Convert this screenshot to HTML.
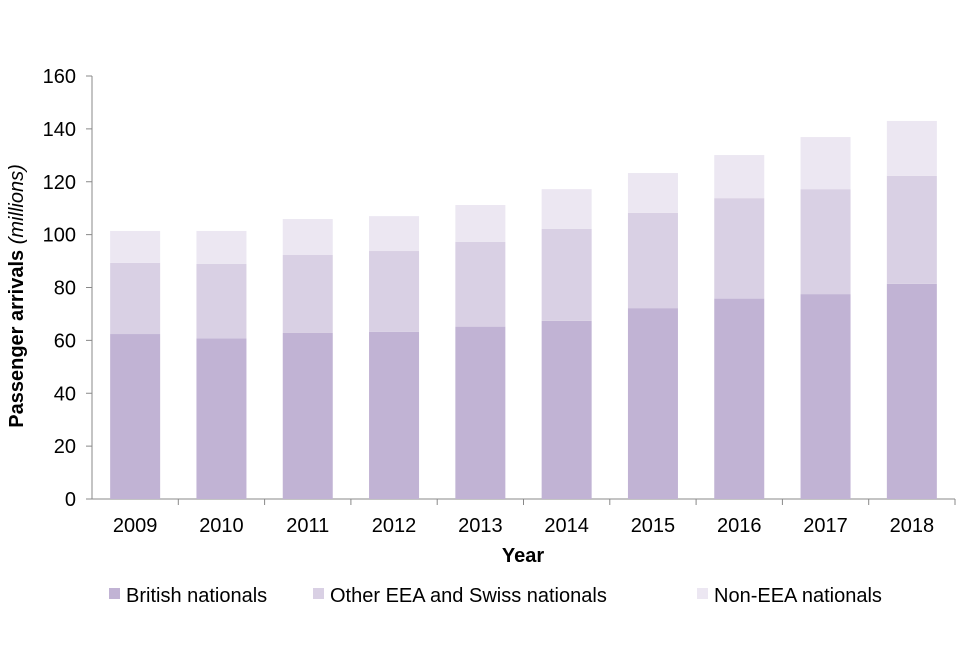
<!DOCTYPE html>
<html><head><meta charset="utf-8"><style>
body{margin:0;background:#fff;font-family:"Liberation Sans",Arial,sans-serif;}
svg text{font-family:"Liberation Sans",Arial,sans-serif;fill:#000;}
</style></head><body>
<svg id="chart" width="960" height="640">
<g id="axes"></g><g id="bars"></g><g id="legend"></g>
</svg>
<script>
const categories=["2009","2010","2011","2012","2013","2014","2015","2016","2017","2018"];
const british=[62.4,60.8,62.8,63.2,65.2,67.4,72.2,75.8,77.5,81.4];
const eea=[26.9,28.1,29.5,30.6,32.1,34.8,36.0,38.0,39.7,40.8];
const nonEea=[12.1,12.5,13.6,13.2,13.9,15.0,15.1,16.3,19.7,20.8];
const yTicks=[0,20,40,60,80,100,120,140,160];
const seriesNames=["British nationals","Other EEA and Swiss nationals","Non-EEA nationals"];
const colors=["#c1b3d4","#d9d0e4","#ece7f2"];
const NS="http://www.w3.org/2000/svg";
const x0=92,x1=955,y0=499,yTop=76,yMax=160;
const bw=(x1-x0)/categories.length;
const y=v=>y0-(v/yMax)*(y0-yTop);
const xc=i=>x0+bw*(i+0.5);
function mk(t,a,p){const e=document.createElementNS(NS,t);for(const k in a)e.setAttribute(k,a[k]);p.appendChild(e);return e;}
const ax=document.getElementById('axes'),bars=document.getElementById('bars'),lg=document.getElementById('legend');
yTicks.forEach(v=>{
 const t=mk('text',{x:76,y:y(v)+7,'text-anchor':'end','font-size':20},ax);t.textContent=v;
 
 
 const l=mk('line',{x1:86,x2:x0,y1:y(v),y2:y(v),stroke:'#888'},ax);
 
 
});
const ya=mk('line',{x1:x0,x2:x0,y1:yTop,y2:y0,stroke:'#888'},ax);


const xa=mk('line',{x1:x0,x2:x1,y1:y0,y2:y0,stroke:'#888'},ax);


categories.forEach((c,i)=>{
 const tk=mk('line',{x1:x0+bw*(i+1),x2:x0+bw*(i+1),y1:y0,y2:y0+6,stroke:'#888'},ax);
 
 
 const t=mk('text',{x:xc(i),y:532,'text-anchor':'middle','font-size':20},ax);t.textContent=c;
 
 
 let base=0;
 [british,eea,nonEea].forEach((s,k)=>{
  const r=mk('rect',{x:xc(i)-25,width:50,y:y(base+s[i]),height:y(base)-y(base+s[i]),fill:colors[k]},bars);
  
  
  base+=s[i];
 });
});
const xt=mk('text',{x:523,y:562,'text-anchor':'middle','font-size':20,'font-weight':'bold'},ax);xt.textContent="Year";


const yt=mk('text',{transform:'translate(23,296) rotate(-90)','text-anchor':'middle','font-size':20,'font-weight':'bold'},ax);
yt.innerHTML='Passenger arrivals <tspan font-style="italic" font-weight="normal">(millions)</tspan>';


const lx=[109,313,697];
seriesNames.forEach((n,k)=>{
 const g=mk('g',{},lg);
 
 
 mk('rect',{x:lx[k],y:588,width:11,height:11,fill:colors[k]},g);
 const t=mk('text',{x:lx[k]+17,y:602,'font-size':20},g);t.textContent=n;
});
</script>
</body></html>
